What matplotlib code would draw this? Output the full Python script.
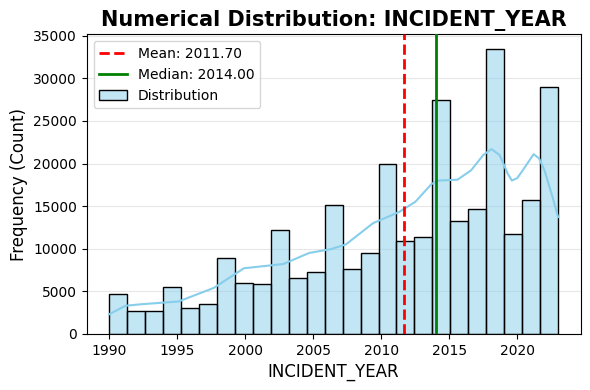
import numpy as np
import matplotlib
matplotlib.use("Agg")
import matplotlib.pyplot as plt
from matplotlib.colors import to_rgba

# histogram counts, 25 equal bins from 1990 to 2023
bin_start, bin_end = 1990, 2023
counts = [4700, 2700, 2700, 5500, 3000, 3500, 8900, 6000, 5900, 12200,
          6600, 7300, 15100, 7600, 9500, 20000, 10900, 11400, 27500, 13300,
          14700, 33500, 11700, 15700, 29000]

# kde curve (scaled to counts)
kde_x = [1990.0, 1991.2, 1992.4, 1995.1, 1997.7, 1999.9, 2002.8, 2004.7, 2006.3,
         2007.4, 2009.4, 2011.3, 2012.5, 2013.7, 2014.2, 2015.6, 2016.6, 2017.5,
         2018.1, 2018.7, 2019.3, 2019.6, 2020.0, 2020.4, 2021.2, 2021.6, 2022.0,
         2022.6, 2023.0]
kde_y = [2300, 3300, 3480, 3800, 5400, 7700, 8200, 9500, 9950,
         10500, 13000, 14300, 15500, 17600, 18000, 18100, 19200, 21000,
         21700, 21000, 18800, 18000, 18300, 19200, 21100, 20600, 19200,
         16000, 13700]

mean_val = 2011.70
median_val = 2014.00

edges = np.linspace(bin_start, bin_end, len(counts) + 1)

fig, ax = plt.subplots(figsize=(5.9, 3.9), dpi=100)
bars = ax.bar(edges[:-1], counts, width=np.diff(edges), align='edge',
              facecolor=to_rgba('skyblue', 0.5), edgecolor='black',
              linewidth=1, zorder=2, label='Distribution')
ax.plot(kde_x, kde_y, color='skyblue', linewidth=1.5, zorder=4)

mean_line = ax.axvline(mean_val, color='red', linestyle='--', linewidth=2, zorder=5,
                       label=f'Mean: {mean_val:.2f}')
med_line = ax.axvline(median_val, color='green', linestyle='-', linewidth=2, zorder=5,
                      label=f'Median: {median_val:.2f}')

ax.legend(handles=[mean_line, med_line, bars], loc='upper left', fontsize=10)

ax.set_xlim(1988.35, 2024.65)
ax.set_ylim(0, 35175)
ax.grid(axis='y', alpha=0.3, zorder=0)
ax.set_axisbelow(True)
ax.set_title('Numerical Distribution: INCIDENT_YEAR', fontsize=15, fontweight='bold')
ax.set_xlabel('INCIDENT_YEAR', fontsize=12)
ax.set_ylabel('Frequency (Count)', fontsize=12)

fig.subplots_adjust(left=0.147, right=0.984, top=0.912, bottom=0.144)
plt.savefig('out.png', dpi=100)
